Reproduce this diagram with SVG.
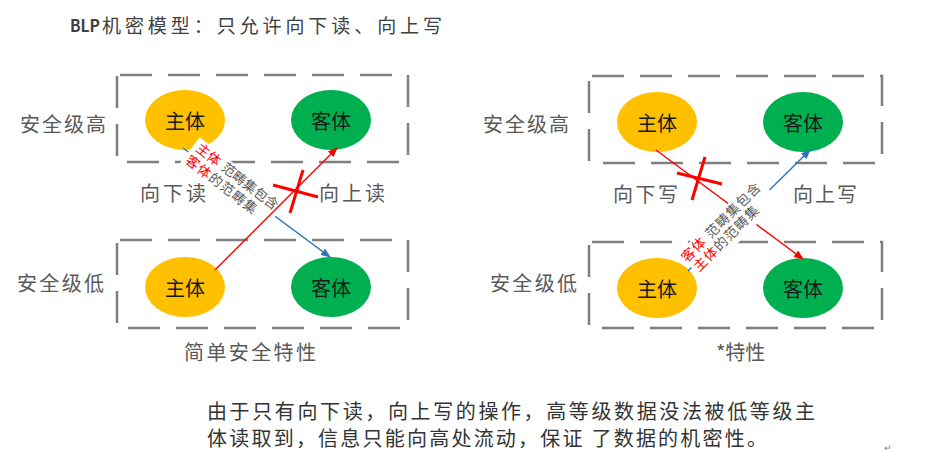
<svg xmlns="http://www.w3.org/2000/svg" width="927" height="458" viewBox="0 0 927 458">
<style>
.t{font-family:"Noto Sans CJK SC","Noto Sans",sans-serif;dominant-baseline:central}
.lbl{font-size:20px;fill:#595959}
.nt{font-size:20px;fill:#1a1a1a;text-anchor:middle}
.box{fill:none;stroke:#7f7f7f;stroke-width:2.5;stroke-dasharray:32 16;stroke-dashoffset:45}
.sub{fill:#ffc000}
.obj{fill:#00b050}
.red{stroke:#ff0000;stroke-width:1.4;fill:none}
.blue{stroke:#2e75b6;stroke-width:1.4;fill:none}
.x{stroke:#ff0000;stroke-width:3;fill:none}
.rt{font-family:"Noto Sans CJK SC","Noto Sans",sans-serif;font-size:13.5px;fill:#595959}
.rr{fill:#ff0000}
</style>
<defs>
<marker id="ar" markerUnits="userSpaceOnUse" markerWidth="10" markerHeight="8" refX="9" refY="4" orient="auto"><path d="M0,0 L10,4 L0,8 z" fill="#ff0000"/></marker>
<marker id="ab" markerUnits="userSpaceOnUse" markerWidth="10" markerHeight="8" refX="9" refY="4" orient="auto"><path d="M0,0 L10,4 L0,8 z" fill="#2e75b6"/></marker>
</defs>
<rect width="927" height="458" fill="#ffffff"/>

<g id="title">
<text class="t" x="70" y="24" font-size="17" font-weight="bold" fill="#404040" textLength="30" lengthAdjust="spacingAndGlyphs">BLP</text>
<text class="t" x="102" y="24" font-size="19" fill="#404040" textLength="340" lengthAdjust="spacing">机密模型：只允许向下读、向上写</text>
</g>

<!-- left panel -->
<g id="left-boxes">
<rect class="box" x="117" y="75" width="291" height="87"/>
<rect class="box" x="117" y="240" width="291" height="88"/>
</g>
<g id="left-labels">
<text class="t lbl" x="20" y="123" textLength="86" lengthAdjust="spacing">安全级高</text>
<text class="t lbl" x="17" y="282" textLength="87" lengthAdjust="spacing">安全级低</text>
<text class="t lbl" x="140" y="192" textLength="66" lengthAdjust="spacing">向下读</text>
<text class="t lbl" x="319" y="192" textLength="66" lengthAdjust="spacing">向上读</text>
<text class="t lbl" x="184" y="351" textLength="132" lengthAdjust="spacing">简单安全特性</text>
</g>
<g id="L-subject-high"><ellipse class="sub" cx="185" cy="120" rx="40" ry="30"/><text class="t nt" x="185" y="120">主体</text></g>
<g id="L-object-high"><ellipse class="obj" cx="331" cy="120" rx="40" ry="30"/><text class="t nt" x="331" y="120">客体</text></g>
<g id="L-subject-low"><ellipse class="sub" cx="185" cy="287" rx="40" ry="30"/><text class="t nt" x="185" y="287">主体</text></g>
<g id="L-object-low"><ellipse class="obj" cx="331" cy="287" rx="40" ry="30"/><text class="t nt" x="331" y="287">客体</text></g>

<!-- right panel -->
<g id="right-boxes">
<rect class="box" x="589" y="76" width="293" height="87"/>
<rect class="box" x="589" y="242" width="293" height="86"/>
</g>
<g id="right-labels">
<text class="t lbl" x="483" y="123" textLength="86" lengthAdjust="spacing">安全级高</text>
<text class="t lbl" x="490" y="282" textLength="87" lengthAdjust="spacing">安全级低</text>
<text class="t lbl" x="613" y="193" textLength="65" lengthAdjust="spacing">向下写</text>
<text class="t lbl" x="793" y="193" textLength="64" lengthAdjust="spacing">向上写</text>
<text class="t lbl" x="716" y="351">*特性</text>
</g>
<g id="R-subject-high"><ellipse class="sub" cx="657" cy="122" rx="40" ry="30"/><text class="t nt" x="657" y="122">主体</text></g>
<g id="R-object-high"><ellipse class="obj" cx="803" cy="122" rx="40" ry="30"/><text class="t nt" x="803" y="122">客体</text></g>
<g id="R-subject-low"><ellipse class="sub" cx="657" cy="288" rx="40" ry="30"/><text class="t nt" x="657" y="288">主体</text></g>
<g id="R-object-low"><ellipse class="obj" cx="803" cy="288" rx="40" ry="30"/><text class="t nt" x="803" y="288">客体</text></g>

<g id="connectors">
<!-- left -->
<line class="blue" x1="183" y1="148" x2="330" y2="257" marker-end="url(#ab)"/>
<g transform="translate(195,150) rotate(37.5)">
<rect x="-4" y="-13" width="108" height="34" fill="#ffffff"/>
<text class="rt" y="0"><tspan x="0" class="rr">主体</tspan><tspan x="32">范畴集包含</tspan></text>
<text class="rt" y="16" letter-spacing="1"><tspan x="-1" class="rr">客体</tspan><tspan>的范畴集</tspan></text>
</g>
<line class="red" x1="215" y1="270" x2="337" y2="148" marker-end="url(#ar)"/>
<line class="x" x1="273" y1="185" x2="318" y2="197"/>
<line class="x" x1="303" y1="170" x2="290" y2="213"/>
<!-- right -->
<line class="red" x1="656" y1="150" x2="803" y2="259" marker-end="url(#ar)"/>
<line class="blue" x1="688" y1="271" x2="810" y2="150" marker-end="url(#ab)"/>
<g transform="translate(687,263) rotate(-45)">
<rect x="0" y="-13" width="110" height="35" fill="#ffffff"/>
<text class="rt" y="0" letter-spacing="1"><tspan x="0" class="rr">客体</tspan><tspan x="34">范畴集包含</tspan></text>
<text class="rt" y="15" letter-spacing="1"><tspan x="2" class="rr">主体</tspan><tspan>的范畴集</tspan></text>
</g>
<line class="x" x1="677" y1="173" x2="722" y2="184"/>
<line class="x" x1="705" y1="157" x2="692" y2="200"/>
</g>

<g id="caption">
<text class="t" x="207" y="410" font-size="20" fill="#333333" textLength="608" lengthAdjust="spacing">由于只有向下读，向上写的操作，高等级数据没法被低等级主</text>
<text class="t" x="207" y="437" font-size="20" fill="#333333" textLength="560" lengthAdjust="spacing">体读取到，信息只能向高处流动，保证 了数据的机密性。</text>
<text class="t" x="884" y="447" font-size="9" fill="#808080">↵</text>
</g>
</svg>
